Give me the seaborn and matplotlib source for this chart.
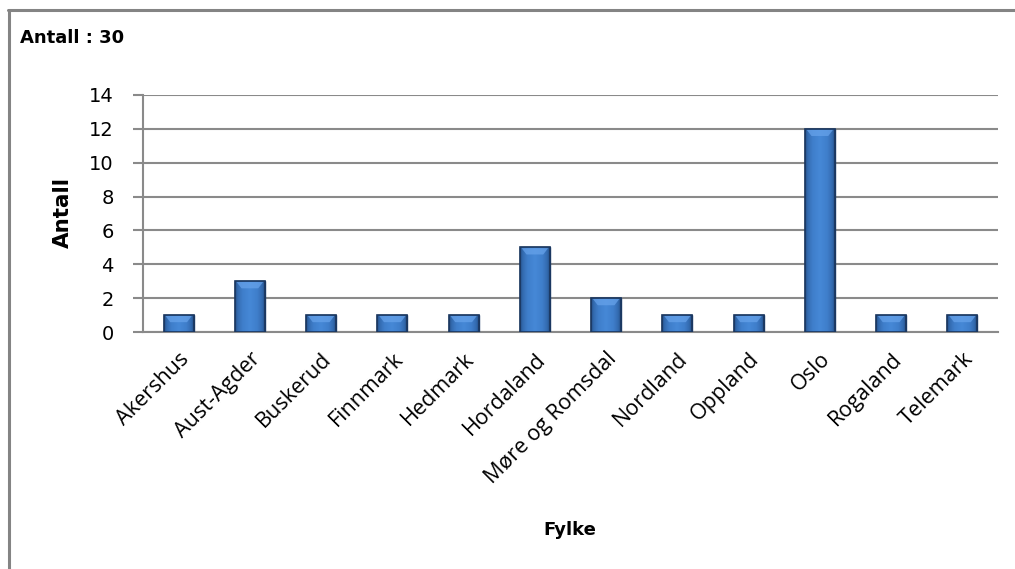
import matplotlib
matplotlib.use("Agg")
import matplotlib.pyplot as plt
import seaborn as sns
import pandas as pd
import numpy as np
from matplotlib.lines import Line2D
from matplotlib.colors import LinearSegmentedColormap

fylker = ["Akershus", "Aust-Agder", "Buskerud", "Finnmark", "Hedmark", "Hordaland",
          "Møre og Romsdal", "Nordland", "Oppland", "Oslo", "Rogaland", "Telemark"]
antall = [1, 3, 1, 1, 1, 5, 2, 1, 1, 12, 1, 1]
y_ticks = [0, 2, 4, 6, 8, 10, 12, 14]

df = pd.DataFrame({"Fylke": fylker, "Antall": antall})

sns.set_theme(style="white")
plt.rcParams["font.family"] = ["DejaVu Sans"]
plt.rcParams["text.color"] = "black"
plt.rcParams["axes.labelcolor"] = "black"

W, H = 1015, 569
fig = plt.figure(figsize=(W / 100, H / 100), dpi=100)
ax = fig.add_axes([143 / W, (H - 332) / H, (998 - 143) / W, (332 - 95) / H])

sns.barplot(data=df, x="Fylke", y="Antall", ax=ax, color="#3a75c0",
            width=0.42, saturation=1, edgecolor="#1f3f6e", linewidth=1.0, zorder=3)

# Shaded fill inside each bar: darker at the sides, lighter in the middle
grad = np.linspace(0, 1, 64)
shade = 1 - np.abs(grad - 0.5) * 2
cmap = LinearSegmentedColormap.from_list("bar", ["#1f4478", "#3269ad", "#3f7ecb", "#4688d6"])
for patch in list(ax.patches):
    x0, y0 = patch.get_x(), patch.get_y()
    w, h = patch.get_width(), patch.get_height()
    im = ax.imshow(shade[np.newaxis, :] ** 0.6, cmap=cmap, vmin=0, vmax=1,
                   extent=[x0, x0 + w, y0, y0 + h], aspect="auto", zorder=3.5,
                   interpolation="bilinear")
    im.set_clip_path(patch)
    # lighter bevel along the top of the bar
    cap = 0.42
    ax.fill([x0 + w * 0.06, x0 + w * 0.94, x0 + w * 0.78, x0 + w * 0.22],
            [y0 + h - 0.05, y0 + h - 0.05, y0 + h - cap, y0 + h - cap],
            color="#66a2ea", alpha=0.75, lw=0, zorder=3.8)
    ax.add_patch(plt.Rectangle((x0, y0), w, h, fill=False, ec="#1b375f", lw=1.2, zorder=4))

ax.set_xlim(-0.5, len(fylker) - 0.5)
ax.set_ylim(0, 14)
ax.set_yticks(y_ticks)
ax.set_yticklabels([str(t) for t in y_ticks], fontsize=14, color="black")
ax.yaxis.grid(True, color="#8a8a8a", linewidth=1.5, zorder=0)
ax.xaxis.grid(False)
for s in ["top", "right"]:
    ax.spines[s].set_visible(False)
for s in ["left", "bottom"]:
    ax.spines[s].set_color("#8a8a8a")
    ax.spines[s].set_linewidth(1.5)
ax.tick_params(axis="y", which="major", left=True, length=7, width=1.5,
               color="#8a8a8a", pad=14)
ax.tick_params(axis="x", bottom=False, pad=6)
ax.set_xticks(range(len(fylker)))
ax.set_xticklabels(fylker, rotation=45, ha="right", rotation_mode="anchor",
                   fontsize=15.5, family="Open Sans", color="black")

ax.set_xlabel("Fylke", fontsize=13, fontweight="bold", labelpad=0)
ax.xaxis.set_label_coords((570 - 143) / (998 - 143), -(530 - 332) / (332 - 95))
ax.xaxis.label.set_va("center")
ax.set_ylabel("Antall", fontsize=15.5, fontweight="bold")
ax.yaxis.set_label_coords(-(143 - 63) / (998 - 143), (332 - 213) / (332 - 95))
ax.yaxis.label.set_va("center")

fig.text(20 / W, 1 - 38 / H, "Antall : 30", fontsize=13, fontweight="bold",
         va="center", ha="left", color="black")

# Outer frame along the top and left edges
fig.add_artist(Line2D([8 / W, 1.0], [1 - 9.5 / H, 1 - 9.5 / H], color="#848484", lw=2.2))
fig.add_artist(Line2D([8.5 / W, 8.5 / W], [0, 1 - 9.5 / H], color="#848484", lw=2.2))

fig.savefig("out.png", dpi=100)
